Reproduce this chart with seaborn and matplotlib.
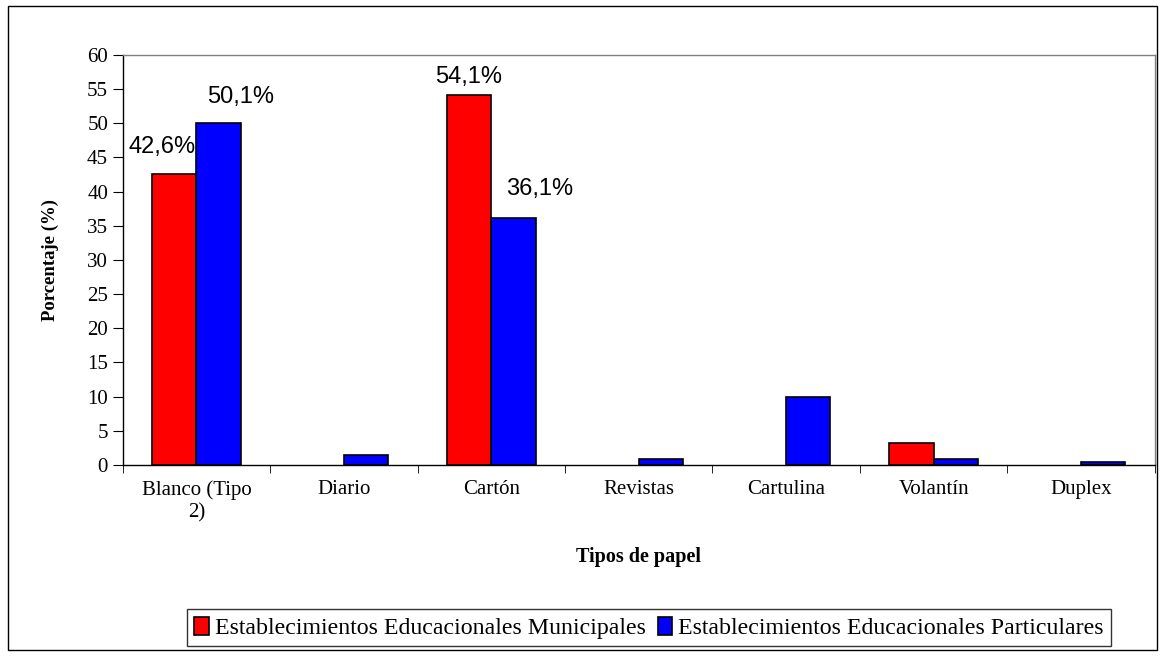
import numpy as np
import pandas as pd
import matplotlib
matplotlib.use("Agg")
import matplotlib.pyplot as plt
import seaborn as sns
from matplotlib.patches import Rectangle

categorias = ["Blanco (Tipo\n2)", "Diario", "Cartón", "Revistas", "Cartulina", "Volantín", "Duplex"]
municipales = [42.6, 0.0, 54.1, 0.0, 0.0, 3.2, 0.0]
particulares = [50.1, 1.5, 36.1, 0.9, 9.9, 0.9, 0.4]
series = ["Establecimientos Educacionales Municipales", "Establecimientos Educacionales Particulares"]

df = pd.DataFrame({
    "tipo": categorias * 2,
    "valor": municipales + particulares,
    "serie": [series[0]] * len(categorias) + [series[1]] * len(categorias),
})

sns.set_style("white")
plt.rcParams["font.family"] = ["Liberation Serif", "DejaVu Serif"]
plt.rcParams["text.color"] = "black"
plt.rcParams["xtick.color"] = "black"
plt.rcParams["ytick.color"] = "black"
plt.rcParams["axes.labelcolor"] = "black"

fig = plt.figure(figsize=(11.65, 6.56), dpi=100)
ax = fig.add_axes([0.1053, 0.2912, 0.886, 0.625])

sns.barplot(data=df, x="tipo", y="valor", hue="serie", order=categorias,
            palette=["#ff0000", "#0000ff"], saturation=1, width=0.6, edgecolor="black",
            linewidth=1.2, ax=ax, legend=True)

handles, labels = ax.get_legend_handles_labels()
ax.legend_.remove()

# barras con valor cero no se dibujan
for cont in ax.containers:
    for p in cont:
        if p.get_height() == 0:
            p.set_visible(False)

ax.set_ylim(0, 60)
ax.set_xlim(-0.5, len(categorias) - 0.5)
ax.set_yticks(np.arange(0, 61, 5))
ax.tick_params(axis="y", labelsize=15, length=7, direction="out", left=True, color="black")
ax.tick_params(axis="x", which="major", labelsize=15, length=0, pad=11)
ax.set_xticks(np.arange(-0.5, len(categorias), 1), minor=True)
ax.tick_params(axis="x", which="minor", length=6, bottom=True, direction="out", color="black")

for s in ["left", "bottom"]:
    ax.spines[s].set_color("black")
    ax.spines[s].set_linewidth(1.0)
for s in ["top", "right"]:
    ax.spines[s].set_color("#808080")
    ax.spines[s].set_linewidth(1.0)

ax.set_ylabel("Porcentaje (%)", fontsize=13.5, fontweight="bold", labelpad=20)
ax.set_xlabel("Tipos de papel", fontsize=14.5, fontweight="bold", labelpad=18)

# etiquetas de valor
etiquetas = [(-0.234, 45.7, "42,6%"), (0.297, 52.9, "50,1%"), (1.843, 55.9, "54,1%"), (2.327, 39.5, "36,1%")]
for x, y, t in etiquetas:
    ax.text(x, y, t, ha="center", va="baseline", fontsize=17, zorder=0.5,
            family=["Liberation Sans", "DejaVu Sans"])

leg = fig.legend(handles, labels, loc="center", bbox_to_anchor=(0.557, 0.043), ncol=2,
                 fontsize=17.2, frameon=True, fancybox=False, edgecolor="black",
                 handlelength=0.6, handleheight=0.8, handletextpad=0.25, columnspacing=0.5,
                 borderpad=0.3)
leg.get_frame().set_linewidth(1.0)
for h in leg.legend_handles:
    h.set_visible(True)

fig.patches.append(Rectangle((0.007, 0.009), 0.986, 0.982, transform=fig.transFigure,
                             fill=False, edgecolor="black", linewidth=1.0))

fig.savefig("out.png", dpi=100)
